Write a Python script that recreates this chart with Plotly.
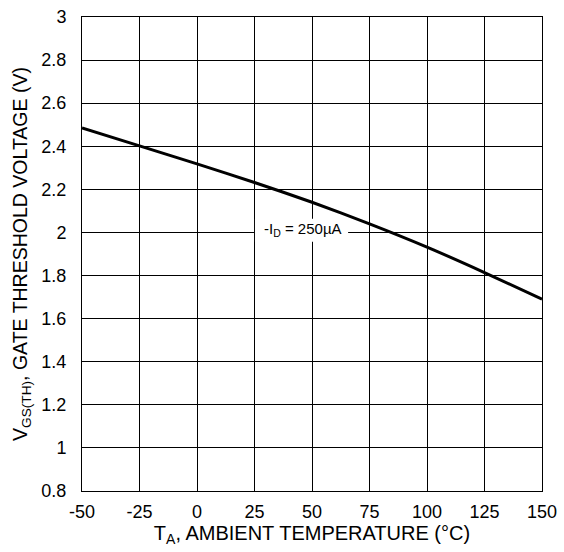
import plotly.graph_objects as go

temps = [-50, -25, 0, 25, 50, 75, 100, 125, 150]
vgs_th = [2.485, 2.402, 2.318, 2.232, 2.140, 2.040, 1.932, 1.814, 1.69]
x_ticks = [-50, -25, 0, 25, 50, 75, 100, 125, 150]
y_ticks = [0.8, 1, 1.2, 1.4, 1.6, 1.8, 2, 2.2, 2.4, 2.6, 2.8, 3]
y_tick_labels = ["0.8", "1", "1.2", "1.4", "1.6", "1.8", "2", "2.2", "2.4", "2.6", "2.8", "3"]
label_pos = (46.0, 2.012)
label_box = dict(x0=25.2, x1=65.7, y0=1.957, y1=2.064)

FONT = "Liberation Sans, Arial, sans-serif"

fig = go.Figure()
fig.add_trace(go.Scatter(x=temps, y=vgs_th, mode="lines",
                         line=dict(color="black", width=3, shape="spline", smoothing=0.6),
                         showlegend=False, hoverinfo="skip"))

fig.add_shape(type="rect", xref="x", yref="y", layer="between",
              fillcolor="white", line=dict(width=0), **label_box)
fig.add_annotation(x=label_pos[0], y=label_pos[1], xref="x", yref="y",
                   text="-I<sub>D</sub> = 250µA", showarrow=False,
                   font=dict(family=FONT, size=15, color="black"))

axis_common = dict(showgrid=True, gridcolor="black", gridwidth=1,
                   showline=True, linecolor="black", linewidth=1, mirror=True,
                   ticks="", zeroline=False, ticklabeloverflow="allow",
                   tickfont=dict(family=FONT, size=18, color="black"))

fig.update_xaxes(range=[-50, 150], tickvals=x_ticks, ticktext=[str(t) for t in x_ticks],
                 ticklabelstandoff=4,
                 title=dict(text="T<sub>A</sub>, AMBIENT TEMPERATURE (°C)",
                            font=dict(family=FONT, size=20, color="black"),
                            standoff=5),
                 **axis_common)
fig.update_yaxes(range=[0.8, 3], tickvals=y_ticks, ticktext=y_tick_labels,
                 ticklabelstandoff=11,
                 title=dict(text="V<sub>GS(TH)</sub>, GATE THRESHOLD VOLTAGE (V)",
                            font=dict(family=FONT, size=19.5, color="black"),
                            standoff=8),
                 **axis_common)

fig.update_layout(width=564, height=552, plot_bgcolor="white", paper_bgcolor="white",
                  margin=dict(l=82, r=22, t=7, b=61))

fig.write_html("out.html", config={"displayModeBar": False},
               post_script="document.body.style.margin='0px';")
